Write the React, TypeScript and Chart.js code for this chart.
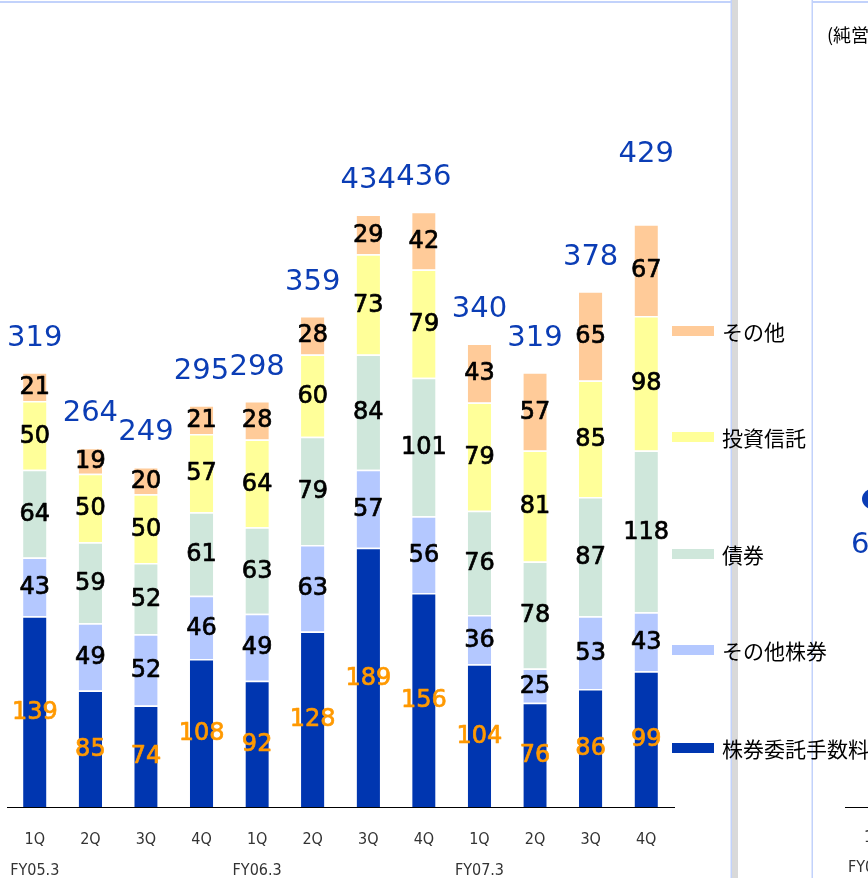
import React, { useEffect, useRef } from "react";
import { Chart, registerables } from "chart.js";

Chart.register(...registerables);

const quarters = ["1Q", "2Q", "3Q", "4Q", "1Q", "2Q", "3Q", "4Q", "1Q", "2Q", "3Q", "4Q"];
const fiscalYears = ["FY05.3", "", "", "", "FY06.3", "", "", "", "FY07.3", "", "", ""];

const stockCommission = [139, 85, 74, 108, 92, 128, 189, 156, 104, 76, 86, 99];
const otherStocks = [43, 49, 52, 46, 49, 63, 57, 56, 36, 25, 53, 43];
const bonds = [64, 59, 52, 61, 63, 79, 84, 101, 76, 78, 87, 118];
const investmentTrusts = [50, 50, 50, 57, 64, 60, 73, 79, 79, 81, 85, 98];
const others = [21, 19, 20, 21, 28, 28, 29, 42, 43, 57, 65, 67];
const totals = [319, 264, 249, 295, 298, 359, 434, 436, 340, 319, 378, 429];

const seriesNames = ["株券委託手数料", "その他株券", "債券", "投資信託", "その他"];
const seriesColors = ["#0036b0", "#b4c8ff", "#cfe7db", "#ffff99", "#ffcb99"];

const TOTAL_COLOR = "#0b3db5";
const FRAME_BLUE = "#c2d2fb";
const NUM_FONT = '"DejaVu Sans", "Noto Sans", sans-serif';
const JP_FONT = '"Noto Sans CJK JP", "Noto Sans", sans-serif';
const TICK_FONT = '"Liberation Sans Narrow", "DejaVu Sans Condensed", "Liberation Sans", sans-serif';

const framePlugin = {
  id: "frame",
  beforeDraw(chart: any) {
    const ctx = chart.ctx;
    ctx.save();
    ctx.fillStyle = "#ffffff";
    ctx.fillRect(0, 0, chart.width, chart.height);
    ctx.fillStyle = FRAME_BLUE;
    ctx.fillRect(0, 1, 731, 2);
    ctx.fillRect(812, 1, 56, 2);
    ctx.fillRect(730.5, 0, 1.5, chart.height);
    ctx.fillRect(811.5, 0, 1.5, chart.height);
    ctx.fillStyle = "#d9d9d9";
    ctx.fillRect(732, 0, 6, chart.height);
    ctx.restore();
  },
};

const labelsPlugin = {
  id: "segLabels",
  afterDatasetsDraw(chart: any, _args: any, opts: any) {
    const ctx = chart.ctx;
    ctx.save();
    ctx.textAlign = "center";
    ctx.textBaseline = "middle";
    ctx.font = `24px ${NUM_FONT}`;
    ctx.lineWidth = 0.7;
    ctx.lineJoin = "round";
    chart.data.datasets.forEach((ds: any, di: number) => {
      const meta = chart.getDatasetMeta(di);
      meta.data.forEach((bar: any, i: number) => {
        const p = bar.getProps(["x", "y", "base"], true);
        const c = di === 0 ? "#ff9900" : "#000000";
        ctx.fillStyle = c;
        ctx.strokeStyle = c;
        const ty = (p.y + p.base) / 2 + 1;
        ctx.fillText(String(ds.data[i]), p.x, ty);
        ctx.strokeText(String(ds.data[i]), p.x, ty);
      });
    });
    const topMeta = chart.getDatasetMeta(chart.data.datasets.length - 1);
    ctx.font = `29px ${NUM_FONT}`;
    ctx.fillStyle = TOTAL_COLOR;
    topMeta.data.forEach((bar: any, i: number) => {
      const p = bar.getProps(["x", "y"], true);
      const extra = (opts.extraGap && opts.extraGap[i]) || 0;
      ctx.fillText(String(totals[i]), p.x, p.y - opts.gap - extra);
    });
    ctx.restore();
  },
};

const decorPlugin = {
  id: "decor",
  afterDraw(chart: any) {
    const ctx = chart.ctx;
    ctx.save();
    // right panel fragments
    ctx.fillStyle = "#000";
    ctx.textBaseline = "middle";
    ctx.textAlign = "left";
    ctx.font = `18px ${JP_FONT}`;
    ctx.fillText("(純営業収益)", 827, 35);
    ctx.fillStyle = TOTAL_COLOR;
    ctx.beginPath();
    ctx.ellipse(875, 499, 13, 11, 0, 0, Math.PI * 2);
    ctx.fill();
    ctx.font = `29px ${NUM_FONT}`;
    ctx.fillText("6", 851, 545);
    ctx.strokeStyle = "#000";
    ctx.lineWidth = 1;
    ctx.beginPath();
    ctx.moveTo(845, 807.5);
    ctx.lineTo(868, 807.5);
    ctx.stroke();
    ctx.fillStyle = "#333";
    ctx.font = `16px ${TICK_FONT}`;
    ctx.fillText("1Q", 864, 838);
    ctx.fillText("FY08.3", 848, 868);

    // legend
    const legendY = [748, 650, 554, 437, 331];
    ctx.font = `21px ${JP_FONT}`;
    chart.data.datasets.forEach((ds: any, di: number) => {
      const y = legendY[di];
      ctx.fillStyle = ds.backgroundColor;
      ctx.fillRect(672, y - 5, 42, 10);
      ctx.fillStyle = "#000";
      ctx.fillText(ds.label, 722, y + 1);
    });
    ctx.restore();
  },
};

export default function App() {
  const ref = useRef<HTMLCanvasElement | null>(null);
  useEffect(() => {
    if (!ref.current) return;
    const seriesData = [stockCommission, otherStocks, bonds, investmentTrusts, others];
    const chart = new Chart(ref.current, {
      type: "bar",
      data: {
        labels: quarters,
        datasets: seriesData.map((d, i) => ({
          label: seriesNames[i],
          data: d,
          backgroundColor: seriesColors[i],
          borderColor: "#ffffff",
          borderWidth: { top: 1.5, left: 0, right: 0, bottom: 0 },
          borderSkipped: "start",
          barPercentage: 0.84,
          categoryPercentage: 0.5,
        })),
      },
      plugins: [framePlugin, labelsPlugin, decorPlugin],
      options: {
        responsive: false,
        animation: false,
        devicePixelRatio: 1,
        layout: { padding: { left: 7, right: 194, top: 39, bottom: 0 } },
        plugins: {
          legend: { display: false },
          tooltip: { enabled: false },
          segLabels: { gap: 34, extraGap: [0, 0, 0, 0, 0, 0, 0, 0, 0, 0, 0, 36] },
        } as any,
        scales: {
          x: {
            type: "category",
            stacked: true,
            position: "bottom",
            grid: { display: false },
            border: { display: true, color: "#000", width: 1 },
            ticks: {
              autoSkip: false,
              maxRotation: 0,
              padding: 15,
              color: "#333",
              font: { family: TICK_FONT, size: 16, lineHeight: 1.2 },
            },
            afterFit: (s: any) => {
              s.height = 46;
            },
          },
          x2: {
            type: "category",
            labels: fiscalYears,
            position: "bottom",
            offset: true,
            grid: { display: false },
            border: { display: false },
            ticks: {
              autoSkip: false,
              maxRotation: 0,
              padding: 0,
              color: "#333",
              font: { family: TICK_FONT, size: 16, lineHeight: 1.2 },
            },
            afterFit: (s: any) => {
              s.height = 25;
            },
          },
          y: {
            stacked: true,
            display: false,
            min: 0,
            max: 560,
          },
        },
      } as any,
    });
    return () => chart.destroy();
  }, []);
  return (
    <div style={{ position: "fixed", left: 0, top: 0, width: 868, height: 878 }}>
      <canvas ref={ref} width={868} height={878} style={{ display: "block", width: 868, height: 878 }} />
    </div>
  );
}
